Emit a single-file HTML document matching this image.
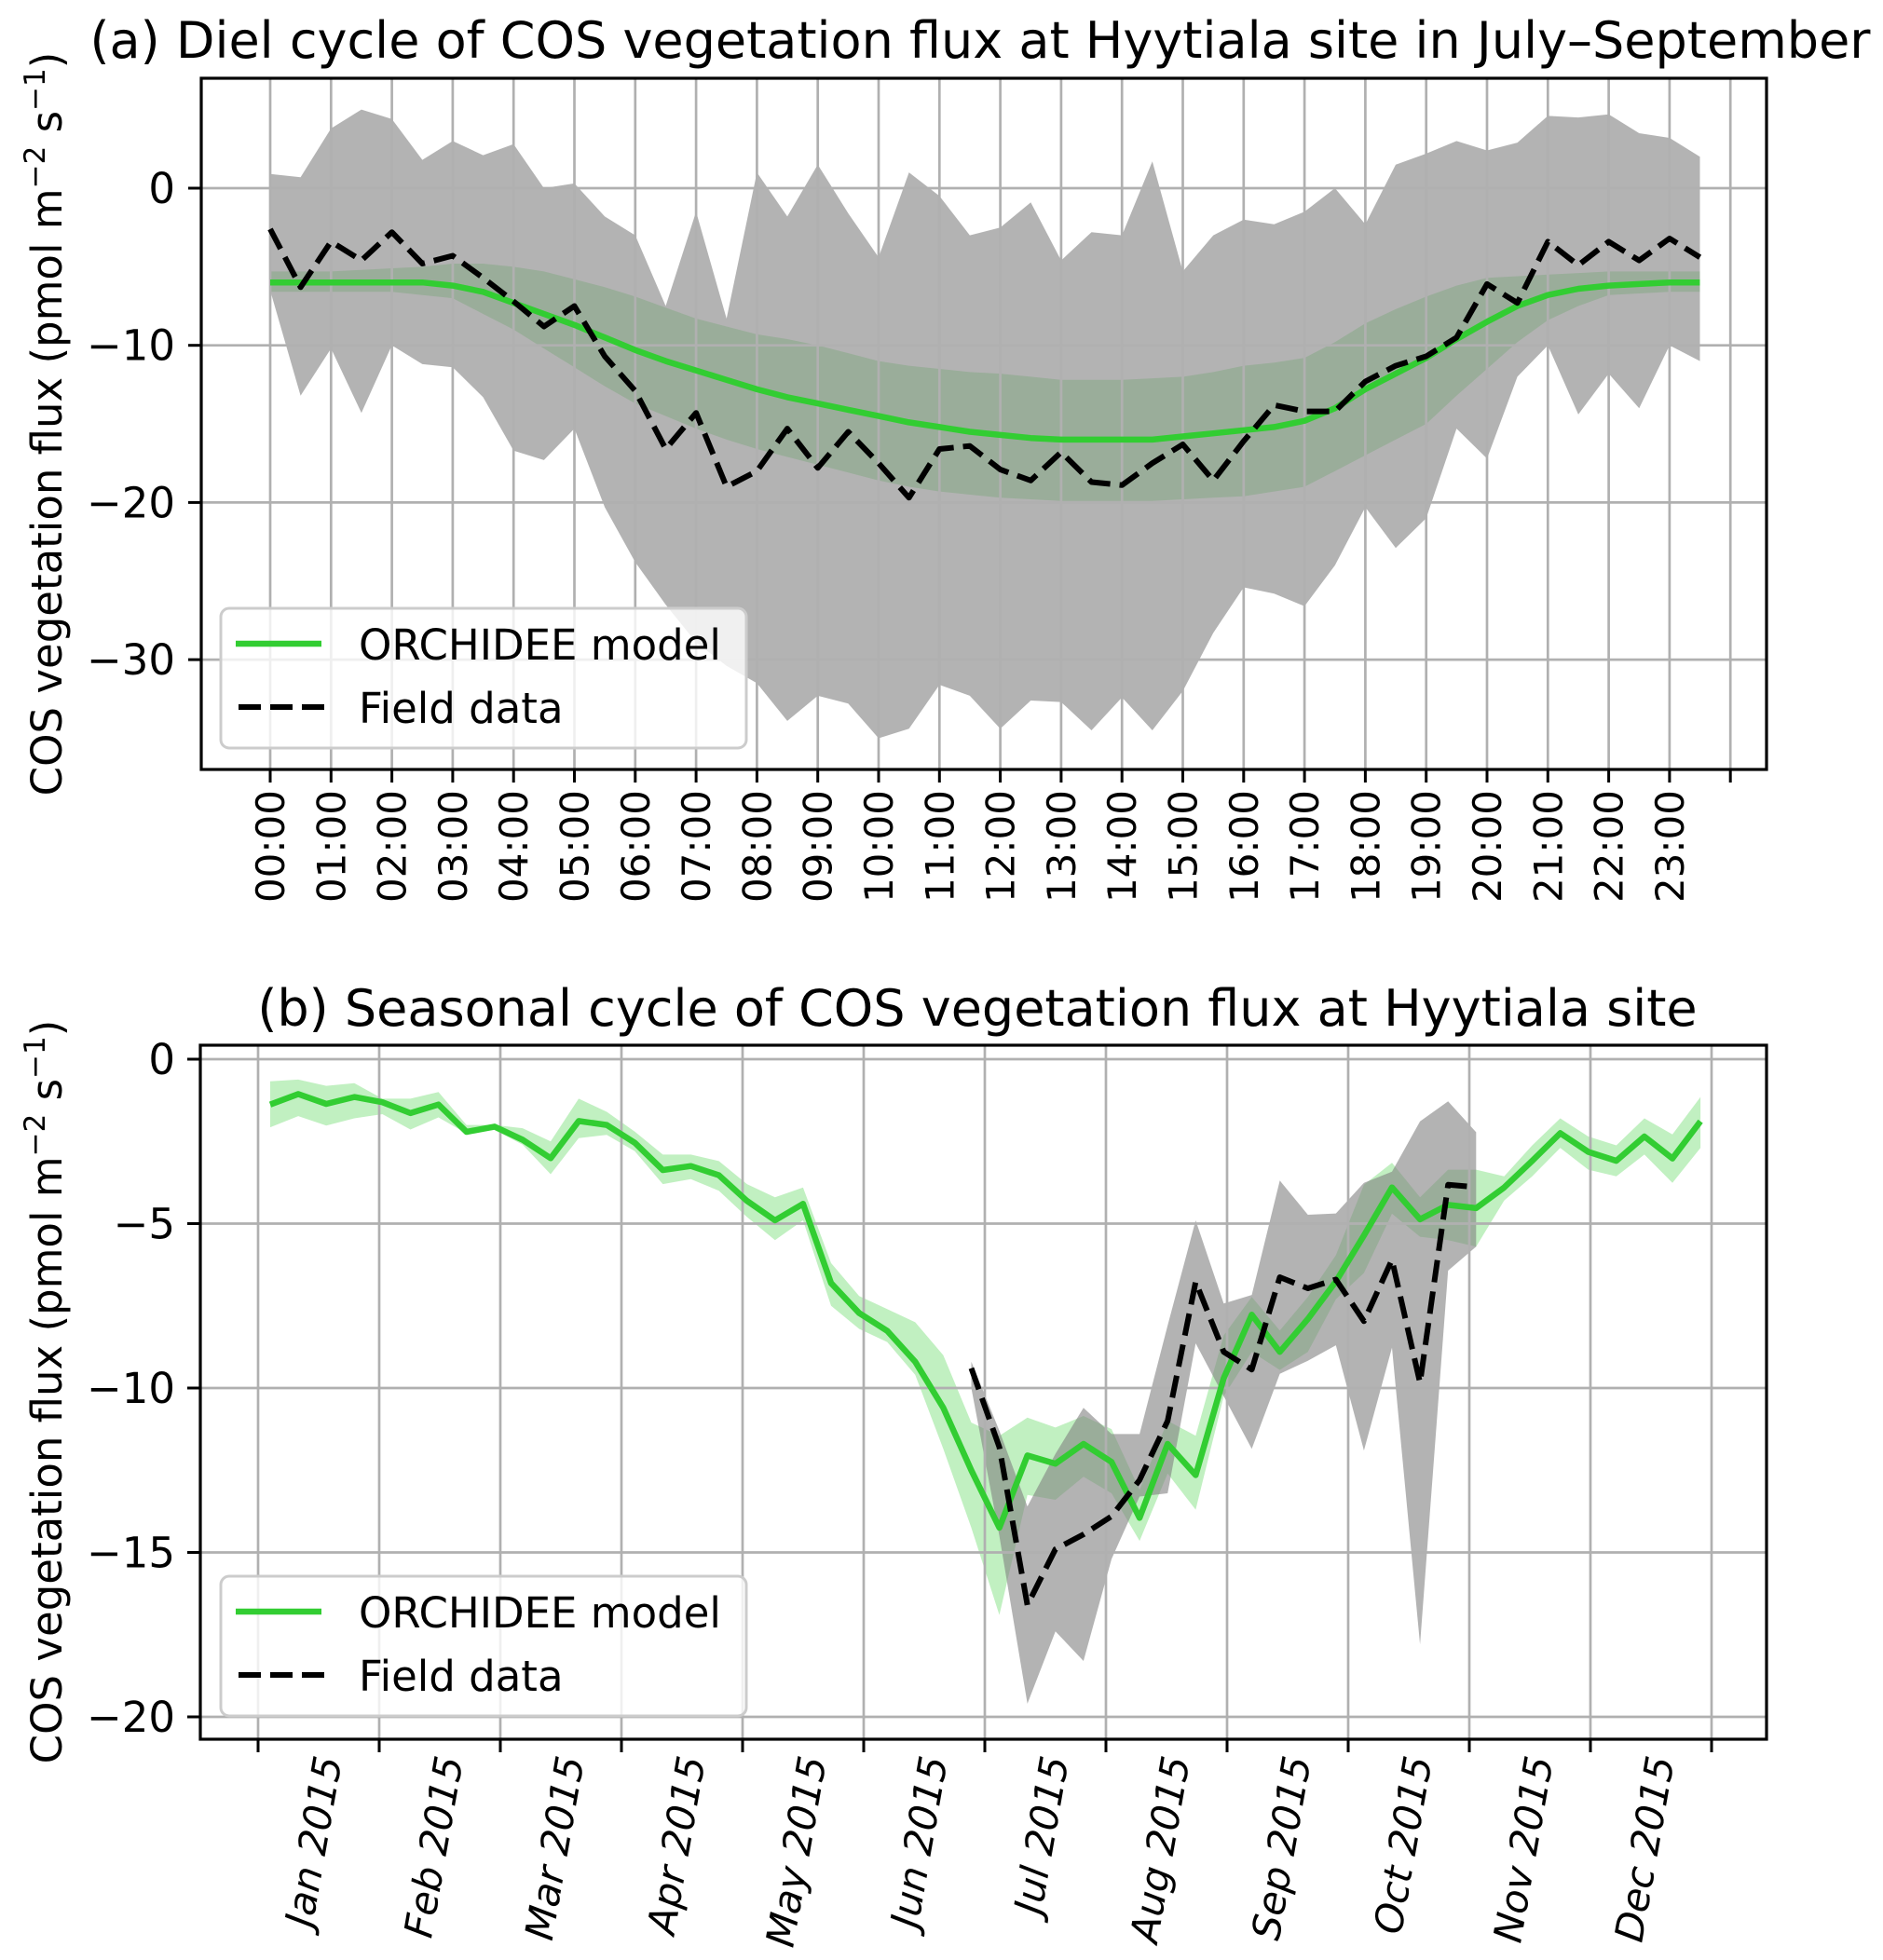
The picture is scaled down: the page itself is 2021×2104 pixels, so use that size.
<!DOCTYPE html>
<html><head><meta charset="utf-8"><title>COS vegetation flux at Hyytiala</title>
<style>html,body{margin:0;padding:0;background:#fff}svg{display:block;font-family:"DejaVu Sans","Liberation Sans",sans-serif}</style>
</head><body>
<svg id="fig" width="2021" height="2104" viewBox="0 0 2021 2104" xmlns="http://www.w3.org/2000/svg"></svg>
<script>
// ===== Panel (a) data: diel cycle, half-hourly 00:00..23:30 =====
const dielHours = [0,0.5,1,1.5,2,2.5,3,3.5,4,4.5,5,5.5,6,6.5,7,7.5,8,8.5,9,9.5,10,10.5,11,11.5,12,12.5,13,13.5,14,14.5,15,15.5,16,16.5,17,17.5,18,18.5,19,19.5,20,20.5,21,21.5,22,22.5,23,23.5];
const dielTickLabels = ["00:00","01:00","02:00","03:00","04:00","05:00","06:00","07:00","08:00","09:00","10:00","11:00","12:00","13:00","14:00","15:00","16:00","17:00","18:00","19:00","20:00","21:00","22:00","23:00"];
const dielModel = [-6.0,-6.0,-6.0,-6.0,-6.0,-6.0,-6.2,-6.6,-7.3,-8.0,-8.7,-9.5,-10.3,-11.0,-11.6,-12.2,-12.8,-13.3,-13.7,-14.1,-14.5,-14.9,-15.2,-15.5,-15.7,-15.9,-16.0,-16.0,-16.0,-16.0,-15.8,-15.6,-15.4,-15.2,-14.8,-14.0,-12.8,-11.8,-10.8,-9.6,-8.5,-7.5,-6.8,-6.4,-6.2,-6.1,-6.0,-6.0];
const dielModelHi = [-5.3,-5.3,-5.3,-5.2,-5.1,-5.0,-4.8,-4.8,-5.0,-5.3,-5.8,-6.3,-6.9,-7.6,-8.3,-8.8,-9.3,-9.6,-10.0,-10.5,-11.0,-11.3,-11.5,-11.7,-11.8,-12.0,-12.2,-12.2,-12.2,-12.1,-12.0,-11.7,-11.3,-11.1,-10.8,-9.8,-8.6,-7.7,-6.9,-6.2,-5.7,-5.6,-5.5,-5.4,-5.3,-5.3,-5.3,-5.3];
const dielModelLo = [-6.6,-6.6,-6.6,-6.6,-6.6,-6.8,-7.0,-8.0,-9.0,-10.2,-11.4,-12.6,-13.7,-14.5,-15.3,-16.0,-16.6,-17.1,-17.6,-18.1,-18.6,-19.0,-19.3,-19.5,-19.7,-19.8,-19.9,-19.9,-19.9,-19.9,-19.8,-19.7,-19.6,-19.3,-19.0,-18.0,-17.0,-16.0,-15.0,-13.2,-11.5,-9.8,-8.4,-7.5,-6.8,-6.7,-6.6,-6.6];
const dielField = [-2.6,-6.3,-3.4,-4.6,-2.8,-4.8,-4.3,-5.7,-7.2,-8.8,-7.5,-10.7,-12.9,-16.6,-14.3,-19.0,-18.0,-15.3,-17.8,-15.5,-17.5,-19.7,-16.6,-16.4,-17.9,-18.6,-16.8,-18.7,-18.9,-17.5,-16.3,-18.6,-16.1,-13.8,-14.2,-14.2,-12.3,-11.3,-10.7,-9.5,-6.1,-7.3,-3.4,-4.9,-3.4,-4.6,-3.2,-4.4];
const dielFieldHi = [0.9,0.7,3.8,5.0,4.4,1.8,3.0,2.1,2.8,0.0,0.3,-1.8,-3.0,-7.5,-1.5,-8.3,1.0,-1.8,1.5,-1.6,-4.4,1.0,-0.5,-3.0,-2.5,-0.9,-4.6,-2.8,-3.0,1.7,-5.3,-3.0,-2.0,-2.3,-1.5,0.0,-2.3,1.5,2.2,3.0,2.4,2.9,4.6,4.5,4.7,3.5,3.2,2.0];
const dielFieldLo = [-6.5,-13.2,-10.2,-14.3,-10.0,-11.2,-11.4,-13.3,-16.7,-17.3,-15.3,-20.3,-23.8,-26.5,-28.9,-30.4,-31.5,-33.9,-32.3,-32.8,-35.0,-34.4,-31.6,-32.3,-34.4,-32.6,-32.7,-34.5,-32.4,-34.5,-32.0,-28.3,-25.4,-25.8,-26.6,-24.0,-20.3,-22.9,-21.0,-15.3,-17.2,-12.0,-10.0,-14.4,-11.8,-14.0,-10.0,-11.0];
const dielYTicks = [0,-10,-20,-30];

// ===== Panel (b) data: seasonal cycle, weekly index 0..51 =====
const monthLabels = ["Jan 2015","Feb 2015","Mar 2015","Apr 2015","May 2015","Jun 2015","Jul 2015","Aug 2015","Sep 2015","Oct 2015","Nov 2015","Dec 2015"];
const seasonModel = [-1.38,-1.06,-1.36,-1.15,-1.31,-1.64,-1.38,-2.21,-2.05,-2.45,-3.01,-1.88,-2.0,-2.54,-3.37,-3.25,-3.53,-4.31,-4.9,-4.4,-6.81,-7.72,-8.26,-9.2,-10.6,-12.5,-14.25,-12.05,-12.3,-11.7,-12.25,-13.95,-11.7,-12.65,-9.7,-7.77,-8.9,-7.9,-6.76,-5.36,-3.9,-4.87,-4.43,-4.53,-3.9,-3.09,-2.25,-2.82,-3.09,-2.35,-3.02,-1.89];
const seasonModelHi = [-0.67,-0.62,-0.81,-0.73,-1.2,-1.2,-1.0,-2.0,-2.0,-2.1,-2.5,-1.2,-1.6,-2.2,-2.9,-2.9,-3.1,-3.8,-4.2,-3.9,-6.2,-7.2,-7.6,-8.0,-9.0,-11.05,-11.45,-10.9,-11.2,-10.85,-11.25,-13.1,-11.0,-11.45,-8.4,-7.23,-8.25,-7.23,-5.96,-3.82,-3.15,-4.2,-3.36,-3.36,-3.56,-2.62,-1.8,-2.35,-2.62,-1.8,-2.29,-1.15];
const seasonModelLo = [-2.07,-1.73,-2.02,-1.8,-1.67,-2.14,-1.77,-2.26,-2.15,-2.6,-3.5,-2.4,-2.3,-2.8,-3.8,-3.65,-4.0,-4.8,-5.5,-4.9,-7.5,-8.2,-8.6,-9.6,-11.85,-14.25,-16.9,-13.25,-13.4,-12.7,-13.2,-14.65,-12.6,-13.7,-10.25,-8.9,-9.45,-8.9,-7.3,-6.5,-4.7,-5.4,-5.5,-5.7,-4.3,-3.56,-2.7,-3.36,-3.56,-2.9,-3.76,-2.7];
const fieldWeeks = [25,26,27,28,29,30,31,32,33,34,35,36,37,38,39,40,41,42,43];
const seasonField = [-9.4,-11.8,-16.6,-14.9,-14.45,-13.9,-12.8,-11.0,-6.77,-8.9,-9.44,-6.63,-6.97,-6.7,-7.97,-6.1,-9.84,-3.82,-3.89];
const seasonFieldHi = [-9.2,-11.3,-13.6,-12.0,-10.6,-11.4,-11.4,-8.1,-4.9,-7.43,-7.17,-3.69,-4.73,-4.69,-3.76,-3.42,-1.89,-1.28,-2.22];
const seasonFieldLo = [-10.0,-14.5,-19.6,-17.4,-18.3,-15.2,-13.3,-13.2,-8.64,-10.25,-11.85,-9.57,-9.17,-8.7,-11.9,-8.77,-17.8,-6.43,-5.7];
const seasonYTicks = [0,-5,-10,-15,-20];

const NS = "http://www.w3.org/2000/svg";
const svg = document.getElementById('fig');
function mk(tag, attrs, parent) {
  const e = document.createElementNS(NS, tag);
  for (const k in attrs) e.setAttribute(k, attrs[k]);
  (parent || svg).appendChild(e);
  return e;
}
const MINUS = "\u2212";
function fmt(v) { return v < 0 ? MINUS + Math.abs(v) : String(v); }
const FS = 45;
const XFS = 42;

const A = {left:216, right:1896, top:84, bottom:826};
function axA(h) { return 290 + h * 65.3; }
function ayA(v) { return 202 - v * 16.87; }
const B = {left:215, right:1896, top:1122, bottom:1867};
function axB(w) { return 290 + w * 30.1; }
function ayB(v) { return 1137 - v * 35.3; }
function monthX(i) { return 277 + i * 130; }

function bandPath(xs, hi, lo, fx, fy) {
  let d = "";
  for (let i = 0; i < xs.length; i++) d += (i ? "L" : "M") + fx(xs[i]).toFixed(1) + "," + fy(hi[i]).toFixed(1);
  for (let i = xs.length - 1; i >= 0; i--) d += "L" + fx(xs[i]).toFixed(1) + "," + fy(lo[i]).toFixed(1);
  return d + "Z";
}
function linePath(xs, ys, fx, fy) {
  let d = "";
  for (let i = 0; i < xs.length; i++) d += (i ? "L" : "M") + fx(xs[i]).toFixed(1) + "," + fy(ys[i]).toFixed(1);
  return d;
}

// ================= PANEL A =================
const gA = mk('g', {});


const tA = mk('text', {x:1052, y:62, 'text-anchor':'middle', 'font-size':54, fill:'#000'}, gA);
tA.textContent = "(a) Diel cycle of COS vegetation flux at Hyytiala site in July\u2013September";



const clipA = mk('clipPath', {id:'clipA'}, gA);
mk('rect', {x:A.left, y:A.top, width:A.right-A.left, height:A.bottom-A.top}, clipA);
const plotA = mk('g', {'clip-path':'url(#clipA)'}, gA);

const gbA = mk('path', {d: bandPath(dielHours, dielModelHi, dielModelLo, axA, ayA), fill:'#32cd32', 'fill-opacity':0.3, stroke:'none'}, plotA);


const fbA = mk('path', {d: bandPath(dielHours, dielFieldHi, dielFieldLo, axA, ayA), fill:'#808080', 'fill-opacity':0.6, stroke:'none'}, plotA);



for (let i = 0; i <= 24; i++) {
  const gl = mk('line', {x1:axA(i), x2:axA(i), y1:A.top, y2:A.bottom, stroke:'#b0b0b0', 'stroke-width':2.7}, plotA);
  
  
}
for (const v of dielYTicks) {
  const gl = mk('line', {x1:A.left, x2:A.right, y1:ayA(v), y2:ayA(v), stroke:'#b0b0b0', 'stroke-width':2.7}, plotA);
  
  
}
const mlA = mk('path', {d: linePath(dielHours, dielModel, axA, ayA), fill:'none', stroke:'#32cd32', 'stroke-width':6.5, 'stroke-linejoin':'round'}, plotA);


const flA = mk('path', {d: linePath(dielHours, dielField, axA, ayA), fill:'none', stroke:'#000', 'stroke-width':6, 'stroke-dasharray':'24,10', 'stroke-linejoin':'round'}, plotA);



for (let i = 0; i <= 24; i++) {
  const x = axA(i);
  const tk = mk('line', {x1:x, x2:x, y1:A.bottom, y2:A.bottom+14, stroke:'#000', 'stroke-width':3}, gA);
  
  
  if (i < dielTickLabels.length) {
    const lb = mk('text', {x:0, y:0, transform:`translate(${x+15},${848}) rotate(-90)`, 'text-anchor':'end', 'font-size':XFS, fill:'#000'}, gA);
    lb.textContent = dielTickLabels[i];
    
    
  }
}
for (const v of dielYTicks) {
  const y = ayA(v);
  const tk = mk('line', {x1:A.left-14, x2:A.left, y1:y, y2:y, stroke:'#000', 'stroke-width':3}, gA);
  
  
  const lb = mk('text', {x:188, y:y+16, 'text-anchor':'end', 'font-size':FS, fill:'#000'}, gA);
  lb.textContent = fmt(v);
  
  
}
const spA = mk('rect', {x:A.left, y:A.top, width:A.right-A.left, height:A.bottom-A.top, fill:'none', stroke:'#000', 'stroke-width':3.2}, gA);



function yLabel(parent, cy, name) {
  const t = mk('text', {x:0, y:0, transform:`translate(66,${cy}) rotate(-90)`, 'text-anchor':'middle', 'font-size':FS, fill:'#000'}, parent);
  
  
  const parts = [["COS vegetation flux (pmol m",0],[MINUS+"2",1],["  s",0],[MINUS+"1",1],[")",0]];
  for (const [s, sup] of parts) {
    const ts = mk('tspan', sup ? {'baseline-shift':'super','font-size':31} : {}, t);
    ts.textContent = s;
  }
  return t;
}
yLabel(gA, 455, 'y-axis-title-a');

function legend(parent, top, name) {
  const g = mk('g', {}, parent);
  
  
  mk('rect', {x:237, y:top, width:564, height:150, rx:9, fill:'#fff', 'fill-opacity':0.8, stroke:'#cccccc', 'stroke-width':3}, g);
  const l1 = mk('line', {x1:253, x2:345, y1:top+38, y2:top+38, stroke:'#32cd32', 'stroke-width':6.5}, g);
  
  
  const t1 = mk('text', {x:385, y:top+55, 'font-size':FS, fill:'#000'}, g);
  t1.textContent = "ORCHIDEE model";
  
  
  const l2 = mk('line', {x1:256, x2:350, y1:top+106, y2:top+106, stroke:'#000', 'stroke-width':6, 'stroke-dasharray':'24,10'}, g);
  
  
  const t2 = mk('text', {x:385, y:top+123, 'font-size':FS, fill:'#000'}, g);
  t2.textContent = "Field data";
  
  
}
legend(gA, 653, 'legend-a');

// ================= PANEL B =================
const gB = mk('g', {});


const tB = mk('text', {x:1049, y:1101, 'text-anchor':'middle', 'font-size':54, fill:'#000'}, gB);
tB.textContent = "(b) Seasonal cycle of COS vegetation flux at Hyytiala site";



const clipB = mk('clipPath', {id:'clipB'}, gB);
mk('rect', {x:B.left, y:B.top, width:B.right-B.left, height:B.bottom-B.top}, clipB);
const plotB = mk('g', {'clip-path':'url(#clipB)'}, gB);

const weeks = seasonModel.map((_, i) => i);
const gbB = mk('path', {d: bandPath(weeks, seasonModelHi, seasonModelLo, axB, ayB), fill:'#32cd32', 'fill-opacity':0.3, stroke:'none'}, plotB);


const fbB = mk('path', {d: bandPath(fieldWeeks, seasonFieldHi, seasonFieldLo, axB, ayB), fill:'#808080', 'fill-opacity':0.6, stroke:'none'}, plotB);



for (let i = 0; i <= 12; i++) {
  const gl = mk('line', {x1:monthX(i), x2:monthX(i), y1:B.top, y2:B.bottom, stroke:'#b0b0b0', 'stroke-width':2.7}, plotB);
  
  
}
for (const v of seasonYTicks) {
  const gl = mk('line', {x1:B.left, x2:B.right, y1:ayB(v), y2:ayB(v), stroke:'#b0b0b0', 'stroke-width':2.7}, plotB);
  
  
}
const mlB = mk('path', {d: linePath(weeks, seasonModel, axB, ayB), fill:'none', stroke:'#32cd32', 'stroke-width':6.5, 'stroke-linejoin':'round'}, plotB);


const flB = mk('path', {d: linePath(fieldWeeks, seasonField, axB, ayB), fill:'none', stroke:'#000', 'stroke-width':6, 'stroke-dasharray':'24,10', 'stroke-linejoin':'round'}, plotB);



for (let i = 0; i <= 12; i++) {
  const x = monthX(i);
  const tk = mk('line', {x1:x, x2:x, y1:B.bottom, y2:B.bottom+14, stroke:'#000', 'stroke-width':3}, gB);
  
  
  if (i < monthLabels.length) {
    const lb = mk('text', {x:0, y:0, transform:`translate(${x+90},${1888}) rotate(-80)`, 'text-anchor':'end', 'font-size':XFS, fill:'#000', 'font-style':'italic'}, gB);
    lb.textContent = monthLabels[i];
    
    
  }
}
for (const v of seasonYTicks) {
  const y = ayB(v);
  const tk = mk('line', {x1:B.left-14, x2:B.left, y1:y, y2:y, stroke:'#000', 'stroke-width':3}, gB);
  
  
  const lb = mk('text', {x:188, y:y+16, 'text-anchor':'end', 'font-size':FS, fill:'#000'}, gB);
  lb.textContent = fmt(v);
  
  
}
const spB = mk('rect', {x:B.left, y:B.top, width:B.right-B.left, height:B.bottom-B.top, fill:'none', stroke:'#000', 'stroke-width':3.2}, gB);


yLabel(gB, 1494, 'y-axis-title-b');
legend(gB, 1692, 'legend-b');
</script>
</body></html>
